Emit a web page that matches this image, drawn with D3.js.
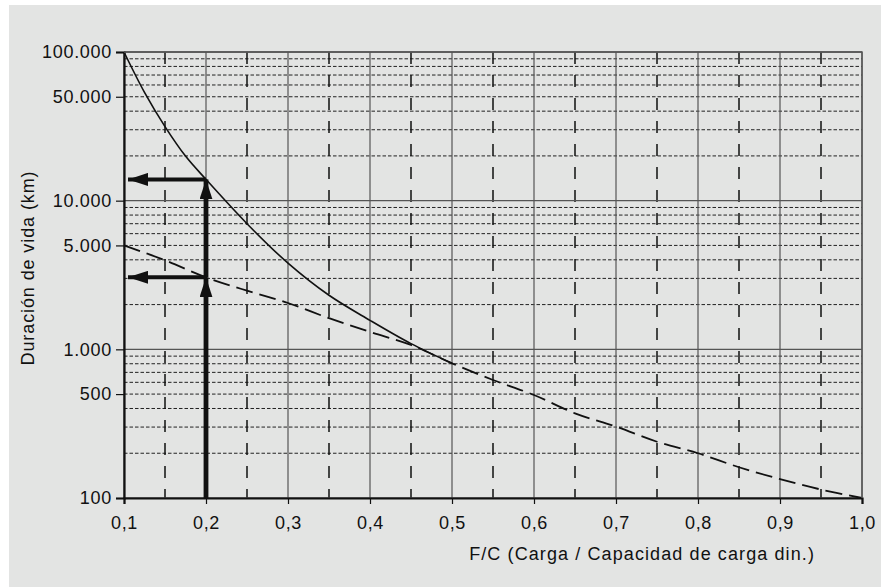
<!DOCTYPE html>
<html>
<head>
<meta charset="utf-8">
<script src="https://cdn.jsdelivr.net/npm/d3@7"></script>
<style>
  body { margin: 0; background: #fff; }
  svg { display: block; }
  text { font-family: "Liberation Sans", Arial, sans-serif; fill: #111; }
</style>
</head>
<body>
<div class="chart"></div>
<script>
// F/C ratio vs. life (km), log scale
// solid curve, only drawn up to 0.5 where it joins the dashed one
const solidRatio = [0.1, 0.125, 0.15, 0.175, 0.2, 0.25, 0.3, 0.35, 0.4, 0.45, 0.5];
const lifeSolid = [100000, 53500, 31500, 19950, 13900, 7000, 3800, 2310, 1567, 1092, 805];
// dashed curve
const dashedRatio = [0.1, 0.15, 0.2, 0.25, 0.3, 0.35, 0.4, 0.45, 0.5, 0.55, 0.6, 0.65, 0.7, 0.75, 0.8, 0.85, 0.9, 0.95, 1.0];
const lifeDashed = [5000, 3970, 3050, 2480, 2050, 1620, 1310, 1070, 805, 622, 493, 371, 302, 239, 200, 161, 134, 114, 100];

// example arrows at F/C = 0.2
const exampleRatio = 0.2;
const exampleLife = [13900, 3050];

const xTicks = [0.1, 0.2, 0.3, 0.4, 0.5, 0.6, 0.7, 0.8, 0.9, 1.0];
const xMinor = [0.15, 0.25, 0.35, 0.45, 0.55, 0.65, 0.75, 0.85, 0.95];
const yLabels = [100, 500, 1000, 5000, 10000, 50000, 100000];
const yMajor = [100, 1000, 10000, 100000];

const margin = { top: 52, right: 24, bottom: 89, left: 124 };
const fullWidth = 886, fullHeight = 587;
const width = fullWidth - margin.left - margin.right;
const height = fullHeight - margin.top - margin.bottom;

const root = d3.select('.chart')
  .append('svg')
    .attr('width', fullWidth)
    .attr('height', fullHeight);

root.append('rect')
  .attr('x', 9).attr('y', 5)
  .attr('width', 872).attr('height', 582)
  .attr('fill', '#e3e4e3');

const svg = root.append('g')
  .attr('transform', `translate(${margin.left}, ${margin.top})`);

const xScale = d3.scaleLinear()
  .domain([0.1, 1.0])
  .range([0, width]);

const yScale = d3.scaleLog()
  .domain([100, 100000])
  .range([height, 0]);

// minor horizontal grid (2..9 of each decade)
const yMinor = [];
yMajor.slice(0, -1).forEach(d => {
  for (let k = 2; k <= 9; k++) yMinor.push(d * k);
});

svg.append('g')
  .selectAll('line')
  .data(yMinor)
  .enter()
  .append('line')
    .attr('x1', 0).attr('x2', width)
    .attr('y1', d => yScale(d)).attr('y2', d => yScale(d))
    .attr('stroke', '#222')
    .attr('stroke-width', 1)
    .attr('stroke-dasharray', '3.5,2');

// minor vertical grid
svg.append('g')
  .selectAll('line')
  .data(xMinor)
  .enter()
  .append('line')
    .attr('x1', d => xScale(d)).attr('x2', d => xScale(d))
    .attr('y1', 0).attr('y2', height)
    .attr('stroke', '#111')
    .attr('stroke-width', 1.5)
    .attr('stroke-dasharray', '12,11');

// major vertical grid
svg.append('g')
  .selectAll('line')
  .data(xTicks)
  .enter()
  .append('line')
    .attr('x1', d => xScale(d)).attr('x2', d => xScale(d))
    .attr('y1', 0).attr('y2', height)
    .attr('stroke', '#555')
    .attr('stroke-width', 1.2);

// major horizontal grid
svg.append('g')
  .selectAll('line')
  .data(yMajor)
  .enter()
  .append('line')
    .attr('x1', 0).attr('x2', width)
    .attr('y1', d => yScale(d)).attr('y2', d => yScale(d))
    .attr('stroke', '#555')
    .attr('stroke-width', 1.4);

// axes
const yAxis = d3.axisLeft(yScale)
  .tickValues(yLabels)
  .tickSize(8)
  .tickPadding(4)
  .tickFormat(d => d3.format(',')(d).replace(/,/g, '.'));

const yG = svg.append('g').call(yAxis);
yG.select('.domain').attr('stroke', '#111').attr('stroke-width', 2.2);
yG.selectAll('.tick line').attr('stroke', '#111').attr('stroke-width', 1.2);
yG.selectAll('text')
  .style('font-size', '18px')
  .style('letter-spacing', '0.7px')
  .attr('fill', '#111');

const xAxis = d3.axisBottom(xScale)
  .tickValues(xTicks)
  .tickSize(6)
  .tickPadding(12)
  .tickFormat(d => d3.format('.1f')(d).replace('.', ','));

const xG = svg.append('g')
  .attr('transform', `translate(0, ${height})`)
  .call(xAxis);
xG.select('.domain').attr('stroke', '#111').attr('stroke-width', 2.2);
xG.selectAll('.tick line').attr('stroke', '#111').attr('stroke-width', 1.2);
xG.selectAll('text')
  .style('font-size', '18px')
  .style('letter-spacing', '0.7px')
  .attr('fill', '#111');

// curves
const solidData = lifeSolid.map((v, i) => ({ x: solidRatio[i], y: v }));
const dashedData = lifeDashed.map((v, i) => ({ x: dashedRatio[i], y: v }));

const line = d3.line()
  .x(d => xScale(d.x))
  .y(d => yScale(d.y))
  .curve(d3.curveCatmullRom.alpha(0.5));

svg.append('path')
  .datum(dashedData)
  .attr('d', line)
  .attr('fill', 'none')
  .attr('stroke', '#111')
  .attr('stroke-width', 1.8)
  .attr('stroke-dasharray', '17,7');

svg.append('path')
  .datum(solidData)
  .attr('d', line)
  .attr('fill', 'none')
  .attr('stroke', '#111')
  .attr('stroke-width', 1.6);

// arrows
const defs = root.append('defs');
defs.append('marker')
  .attr('id', 'head')
  .attr('viewBox', '0 0 20 13')
  .attr('refX', 20).attr('refY', 6.5)
  .attr('markerWidth', 20).attr('markerHeight', 13)
  .attr('markerUnits', 'userSpaceOnUse')
  .attr('orient', 'auto')
  .append('path')
    .attr('d', 'M0,0 L20,6.5 L0,13 Z')
    .attr('fill', '#111');

const arrows = [
  { x1: exampleRatio, y1: 100, x2: exampleRatio, y2: exampleLife[1], w: 4.8 },
  { x1: exampleRatio, y1: exampleLife[1], x2: exampleRatio, y2: exampleLife[0], w: 4.8 },
  { x1: exampleRatio, y1: exampleLife[0], x2: 0.1, y2: exampleLife[0], w: 4 },
  { x1: exampleRatio, y1: exampleLife[1], x2: 0.1, y2: exampleLife[1], w: 4 }
];

svg.append('g')
  .selectAll('line')
  .data(arrows)
  .enter()
  .append('line')
    .attr('x1', d => xScale(d.x1))
    .attr('y1', d => yScale(d.y1))
    .attr('x2', d => xScale(d.x2) + (d.x2 === 0.1 ? 4 : 0))
    .attr('y2', d => yScale(d.y2))
    .attr('stroke', '#111')
    .attr('stroke-width', d => d.w)
    .attr('marker-end', 'url(#head)');

// plot frame (top/right)
svg.append('path')
  .attr('d', `M0,0 H${width} V${height}`)
  .attr('fill', 'none')
  .attr('stroke', '#555')
  .attr('stroke-width', 1.4);

// axis titles
svg.append('text')
  .attr('x', width - 47)
  .attr('y', height + 62)
  .attr('text-anchor', 'end')
  .style('font-size', '18px')
  .style('letter-spacing', '1.1px')
  .text('F/C (Carga / Capacidad de carga din.)');

svg.append('text')
  .attr('transform', `translate(${-90}, ${height / 2 - 7}) rotate(-90)`)
  .attr('text-anchor', 'middle')
  .style('font-size', '18px')
  .style('letter-spacing', '0.9px')
  .text('Duración de vida (km)');
</script>
</body>
</html>
